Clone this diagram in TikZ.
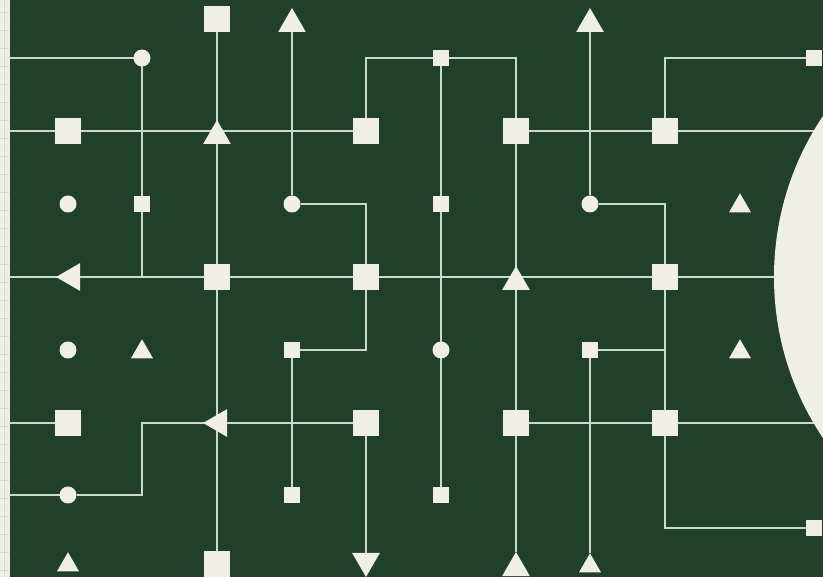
\documentclass[tikz,border=0pt]{standalone}
\usepackage{tikz}
\usetikzlibrary{positioning,calc,shapes.geometric,backgrounds}
\definecolor{BoardGreen}{RGB}{32,64,44}
\definecolor{PaperWhite}{RGB}{239,238,233}
\definecolor{TraceLine}{RGB}{203,216,204}
\definecolor{PaperGrid}{RGB}{214,214,210}
\tikzset{
  mark base/.style={fill=PaperWhite, draw=none, inner sep=0pt, outer sep=0pt},
  bigsq/.style={mark base, rectangle, minimum size=26.5pt},
  smallsq/.style={mark base, rectangle, minimum size=16.5pt},
  dot/.style={mark base, circle, minimum size=17pt},
  bigtri/.style={mark base, regular polygon, regular polygon sides=3, minimum size=32pt},
  smalltri/.style={mark base, regular polygon, regular polygon sides=3, minimum size=25.5pt},
  trace/.style={draw=TraceLine, line width=2.1pt, line join=miter}
}

\begin{document}
\begin{tikzpicture}[x=1pt, y=-1pt]
      \useasboundingbox (0,0) rectangle (823,577);

      % Squares
      \foreach \x/\y/\name in {217/19/a3, 68/131/c1, 366/131/c5, 516/131/c7, 665/131/c9,
          217/277/e3, 366/277/e5, 665/277/e9, 68/423/g1, 366/423/g5, 516/423/g7, 665/423/g9, 217/564/j3} {
        \node[bigsq] (\name) at (\x,\y) {};
      }
      \foreach \x/\y/\name in {441/58/b6, 814/58/b11, 142/204/d2, 441/204/d6, 292/350/f4,
          590/350/f8, 292/495/h4, 441/495/h6, 814/528/i11} {
        \node[smallsq] (\name) at (\x,\y) {};
      }

      % Dots
      \foreach \x/\y/\name in {142/58/b2, 68/204/d1, 292/204/d4, 590/204/d8, 68/350/f1, 441/350/f6, 68/495/h1} {
        \node[dot] (\name) at (\x,\y) {};
      }

      % Triangles
      \foreach \x/\y/\name in {292/24/a4, 590/24/a8, 217/136/c3, 516/282/e7, 516/568/j7} {
        \node[bigtri] (\name) at (\x,\y) {};
      }
      \foreach \x/\y/\name in {740/206/d10, 142/352/f2, 740/352/f10, 68/565/j1, 590/566/j8} {
        \node[smalltri] (\name) at (\x,\y) {};
      }
      \node[bigtri, shape border rotate=90] (e1) at (72,277) {};
      \node[bigtri, shape border rotate=90] (g3) at (219,423) {};
      \node[bigtri, shape border rotate=180] (j5) at (366,561) {};

      % Paper disc
      \node[mark base, circle, minimum size=578pt] (moon) at (1063,277) {};

      % Left margin ends
      \foreach \y/\name in {58/b0, 131/c0, 277/e0, 423/g0, 495/h0} {
        \coordinate (\name) at (9,\y);
      }
      \coordinate (g2) at (142,423);

      \begin{scope}[on background layer]
        % Board & paper strip
        \fill[PaperWhite] (0,0) rectangle (823,577);
        \foreach \y in {12,30,...,570} {
          \draw[PaperGrid, line width=0.6pt] (0,\y) -- (9,\y);
        }
        \draw[PaperGrid, line width=0.6pt] (4,0) -- (4,577);
        \fill[BoardGreen] (10,0) rectangle (823,577);

        % Horizontal traces
        \draw[trace] (b0) -- (b2);
        \draw[trace] (c0) -- (c5);
        \draw[trace] (c7) -- (c9);
        \draw[trace] (c9) -- (c9 -| moon);
        \draw[trace] (e0) -- (e0 -| moon);
        \draw[trace] (g0) -- (g1);
        \draw[trace] (g7) -- (g9);
        \draw[trace] (g9) -- (g9 -| moon);

        % Vertical traces
        \draw[trace] (b2) -- (d2);
        \draw[trace] (d2) -- (d2 |- e3);
        \draw[trace] (a3) -- (j3);
        \draw[trace] (a4) -- (d4);
        \draw[trace] (b6) -- (h6);
        \draw[trace] (c7) -- (j7);
        \draw[trace] (a8) -- (d8);
        \draw[trace] (f4) -- (h4);
        \draw[trace] (f8) -- (j8);
        \draw[trace] (e9) -- (g9);
        \draw[trace] (g5) -- (j5);

        % Bent traces
        \draw[trace] (c5) |- (b6);
        \draw[trace] (b6) -| (c7);
        \draw[trace] (d4) -| (e5);
        \draw[trace] (e5) |- (f4);
        \draw[trace] (d8) -| (e9);
        \draw[trace] (f8) -- (f8 -| e9);
        \draw[trace] (c9) |- (b11);
        \draw[trace] (g9) |- (i11);
        \draw[trace] (h0) -- (h1);
        \draw[trace] (h1) -| (g2) -- (g5);
      \end{scope}
    \end{tikzpicture}
\end{document}
